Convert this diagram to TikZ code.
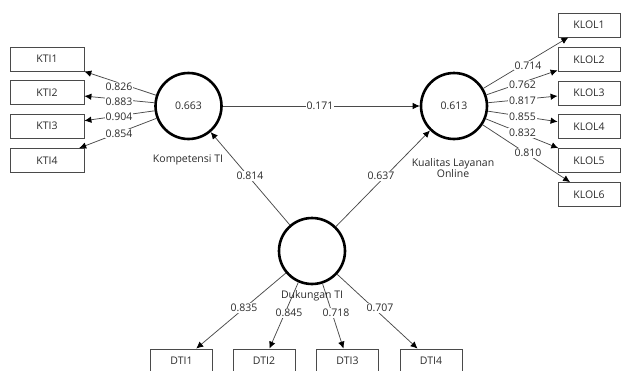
\documentclass[tikz,border=0pt]{standalone}
\usepackage{fontspec}
\setmainfont{Open Sans}
\usetikzlibrary{arrows.meta}
\definecolor{linegray}{HTML}{4a4a4a}
\definecolor{txtgray}{HTML}{2a2a2a}
\begin{document}
\begin{tikzpicture}[x=1pt,y=-1pt,
  font=\fontsize{10.5}{12.5}\selectfont,
  latent/.style={circle,draw=black,line width=2.6pt,minimum size=66pt,inner sep=0pt,text=txtgray},
  indbox/.style={rectangle,draw=linegray,line width=0.8pt,minimum height=24pt,inner sep=0pt,text=txtgray},
  conn/.style={draw=linegray,line width=0.75pt,-{Latex[length=7pt,width=6.5pt,color=black]}},
  lbl/.style={fill=white,inner sep=0.8pt,text=txtgray},
  captext/.style={text=txtgray,align=center,inner sep=0pt}]
\useasboundingbox (0,0) rectangle (622,370);
% latent variables
\node[latent] (kt) at (188.5,106) {0.663};
\node[latent] (kl) at (454,106) {0.613};
\node[latent] (dk) at (312,251) {};
% indicators
\node[indbox,minimum width=74pt] (kti1) at (47,59) {KTI1};
\node[indbox,minimum width=74pt] (kti2) at (47,92.5) {KTI2};
\node[indbox,minimum width=74pt] (kti3) at (47,126) {KTI3};
\node[indbox,minimum width=74pt] (kti4) at (47,160.5) {KTI4};
\node[indbox,minimum width=62pt] (klol1) at (589,25) {KLOL1};
\node[indbox,minimum width=62pt] (klol2) at (589,59.5) {KLOL2};
\node[indbox,minimum width=62pt] (klol3) at (589,93) {KLOL3};
\node[indbox,minimum width=62pt] (klol4) at (589,126.5) {KLOL4};
\node[indbox,minimum width=62pt] (klol5) at (589,160.5) {KLOL5};
\node[indbox,minimum width=62pt] (klol6) at (589,194.5) {KLOL6};
\node[indbox,minimum width=62pt] (dti1) at (181.5,361) {DTI1};
\node[indbox,minimum width=62pt] (dti2) at (264,361) {DTI2};
\node[indbox,minimum width=62pt] (dti3) at (347.5,361) {DTI3};
\node[indbox,minimum width=62pt] (dti4) at (431,361) {DTI4};
% connectors
\draw[conn] (kt) -- (kti1);
\draw[conn] (kt) -- (kti2);
\draw[conn] (kt) -- (kti3);
\draw[conn] (kt) -- (kti4);
\draw[conn] (kl) -- (klol1);
\draw[conn] (kl) -- (klol2);
\draw[conn] (kl) -- (klol3);
\draw[conn] (kl) -- (klol4);
\draw[conn] (kl) -- (klol5);
\draw[conn] (kl) -- (klol6);
\draw[conn] (dk) -- (dti1);
\draw[conn] (dk) -- (dti2);
\draw[conn] (dk) -- (dti3);
\draw[conn] (dk) -- (dti4);
\draw[conn] (kt) -- (kl);
\draw[conn] (dk) -- (kt);
\draw[conn] (dk) -- (kl);
% coefficient labels
\node[lbl] (l1) at (119,87) {0.826};
\node[lbl] (l2) at (119,102) {0.883};
\node[lbl] (l3) at (119,117) {0.904};
\node[lbl] (l4) at (119,133.5) {0.854};
\node[lbl] (r1) at (528,65.5) {0.714};
\node[lbl] (r2) at (522.5,85) {0.762};
\node[lbl] (r3) at (522.5,100.5) {0.817};
\node[lbl] (r4) at (522.5,117) {0.855};
\node[lbl] (r5) at (522.5,133) {0.832};
\node[lbl] (r6) at (528,153) {0.810};
\node[lbl] (d1) at (244,308) {0.835};
\node[lbl] (d2) at (289,313) {0.845};
\node[lbl] (d3) at (336,313) {0.718};
\node[lbl] (d4) at (380,308) {0.707};
\node[lbl] (p1) at (320,106) {0.171};
\node[lbl] (p2) at (250,176) {0.814};
\node[lbl] (p3) at (381,176) {0.637};
% construct names
\node[captext] (nkt) at (188,160) {Kompetensi TI};
\node[captext] (nkl) at (453,168.5) {Kualitas Layanan\\[-1.5pt]Online};
\node[captext] (ndk) at (312,296) {Dukungan TI};
\end{tikzpicture}
\end{document}
